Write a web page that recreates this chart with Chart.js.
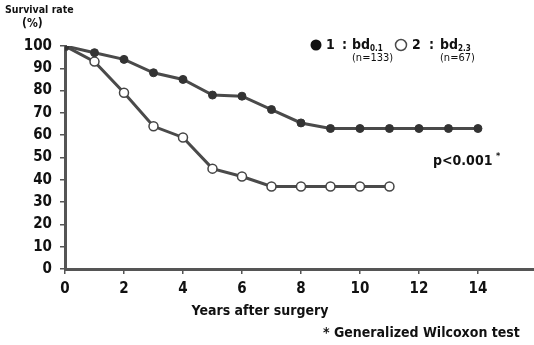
<!DOCTYPE html>
<html>
<head>
<meta charset="utf-8">
<script src="https://cdn.jsdelivr.net/npm/chart.js@4"></script>
<style>
    html, body { margin: 0; padding: 0; background: #fff; }
    #wrap { position: relative; width: 534px; height: 345px; }
</style>
</head>
<body>
<div id="wrap"><canvas id="survivalChart" width="534" height="345"></canvas></div>
<script>
// 数据
const years1 = [0, 1, 2, 3, 4, 5, 6, 7, 8, 9, 10, 11, 12, 13, 14];
const rate1 = [100, 97, 94, 88, 85, 78, 77.5, 71.5, 65.5, 63, 63, 63, 63, 63, 63];
const years2 = [0, 1, 2, 3, 4, 5, 6, 7, 8, 9, 10, 11];
const rate2 = [100, 93, 79, 64, 59, 45, 41.5, 37, 37, 37, 37, 37];
const xTicks = [0, 2, 4, 6, 8, 10, 12, 14];
const yTicks = [0, 10, 20, 30, 40, 50, 60, 70, 80, 90, 100];

const FONT = "'Liberation Sans Narrow', 'DejaVu Sans Condensed', 'Liberation Sans', sans-serif";
const INK = '#111';
const LINE = '#4a4a4a';

function toPoints(xs, ys) {
    return xs.map((x, i) => ({ x: x, y: ys[i] }));
}

// 图上的文字
const annotations = {
    id: 'annotations',
    afterDraw(chart) {
        const ctx = chart.ctx;
        ctx.save();
        ctx.fillStyle = INK;
        ctx.textBaseline = 'middle';

        // 纵轴标题
        ctx.textAlign = 'left';
        ctx.font = 'bold 10.5px ' + FONT;
        ctx.fillText('Survival rate', 5, 10);
        ctx.font = 'bold 12px ' + FONT;
        ctx.fillText('(%)', 22, 24);

        // 图例
        ctx.strokeStyle = LINE;
        ctx.lineWidth = 1.5;
        ctx.beginPath();
        ctx.arc(316, 45, 5.5, 0, Math.PI * 2);
        ctx.fillStyle = '#111';
        ctx.fill();
        ctx.beginPath();
        ctx.arc(401, 45, 5.5, 0, Math.PI * 2);
        ctx.fillStyle = '#fff';
        ctx.fill();
        ctx.stroke();

        ctx.fillStyle = INK;
        ctx.font = 'bold 14px ' + FONT;
        ctx.fillText('1', 326, 45);
        ctx.fillText(':', 342, 45);
        ctx.fillText('bd', 352, 45);
        ctx.fillText('2', 412, 45);
        ctx.fillText(':', 429, 45);
        ctx.fillText('bd', 440, 45);
        ctx.font = 'bold 8px ' + FONT;
        ctx.fillText('0.1', 370, 49);
        ctx.fillText('2.3', 458, 49);
        ctx.font = '11px ' + FONT;
        ctx.fillText('(n=133)', 352, 58);
        ctx.fillText('(n=67)', 440, 58);

        // p 值
        ctx.font = 'bold 14px ' + FONT;
        ctx.fillText('p<0.001', 433, 161);
        ctx.font = 'bold 9px ' + FONT;
        ctx.fillText('*', 496, 157);

        // 横轴标题
        ctx.textAlign = 'center';
        ctx.font = 'bold 14px ' + FONT;
        ctx.fillText('Years after surgery', 260, 311);

        ctx.textAlign = 'left';
        ctx.font = 'bold 14px ' + FONT;
        ctx.fillText('* Generalized Wilcoxon test', 323, 333);
        ctx.restore();
    }
};

new Chart(document.getElementById('survivalChart'), {
    type: 'line',
    data: {
        datasets: [{
            label: '1',
            data: toPoints(years1, rate1),
            borderColor: LINE,
            borderWidth: 3,
            pointRadius: 4,
            pointBackgroundColor: '#333',
            pointBorderColor: '#333',
            pointBorderWidth: 1,
            tension: 0
        }, {
            label: '2',
            data: toPoints(years2, rate2),
            borderColor: LINE,
            borderWidth: 3,
            pointRadius: 4.5,
            pointBackgroundColor: '#fff',
            pointBorderColor: '#444',
            pointBorderWidth: 1.5,
            tension: 0
        }]
    },
    options: {
        responsive: false,
        animation: false,
        layout: { autoPadding: false, padding: { top: 46, right: 0, left: 0, bottom: 0 } },
        plugins: {
            legend: { display: false },
            tooltip: { enabled: false }
        },
        scales: {
            x: {
                type: 'linear',
                min: 0,
                max: 15.9,
                afterFit(scale) { scale.height = 76; scale.paddingRight = 0; },
                afterBuildTicks(scale) { scale.ticks = xTicks.map(v => ({ value: v })); },
                border: { color: '#555', width: 3 },
                grid: { drawOnChartArea: false, drawTicks: true, tickLength: 5, color: '#555', lineWidth: 1.5 },
                ticks: {
                    color: INK,
                    padding: 6,
                    font: { family: FONT, size: 15, weight: 'bold' }
                }
            },
            y: {
                min: 0,
                max: 100,
                afterFit(scale) { scale.width = 65; scale.paddingTop = 0; },
                afterBuildTicks(scale) { scale.ticks = yTicks.map(v => ({ value: v })); },
                border: { color: '#555', width: 3 },
                grid: { drawOnChartArea: false, drawTicks: true, tickLength: 5, color: '#555', lineWidth: 1.5 },
                ticks: {
                    color: INK,
                    padding: 8,
                    font: { family: FONT, size: 15, weight: 'bold' }
                }
            }
        }
    },
    plugins: [annotations]
});
</script>
</body>
</html>
